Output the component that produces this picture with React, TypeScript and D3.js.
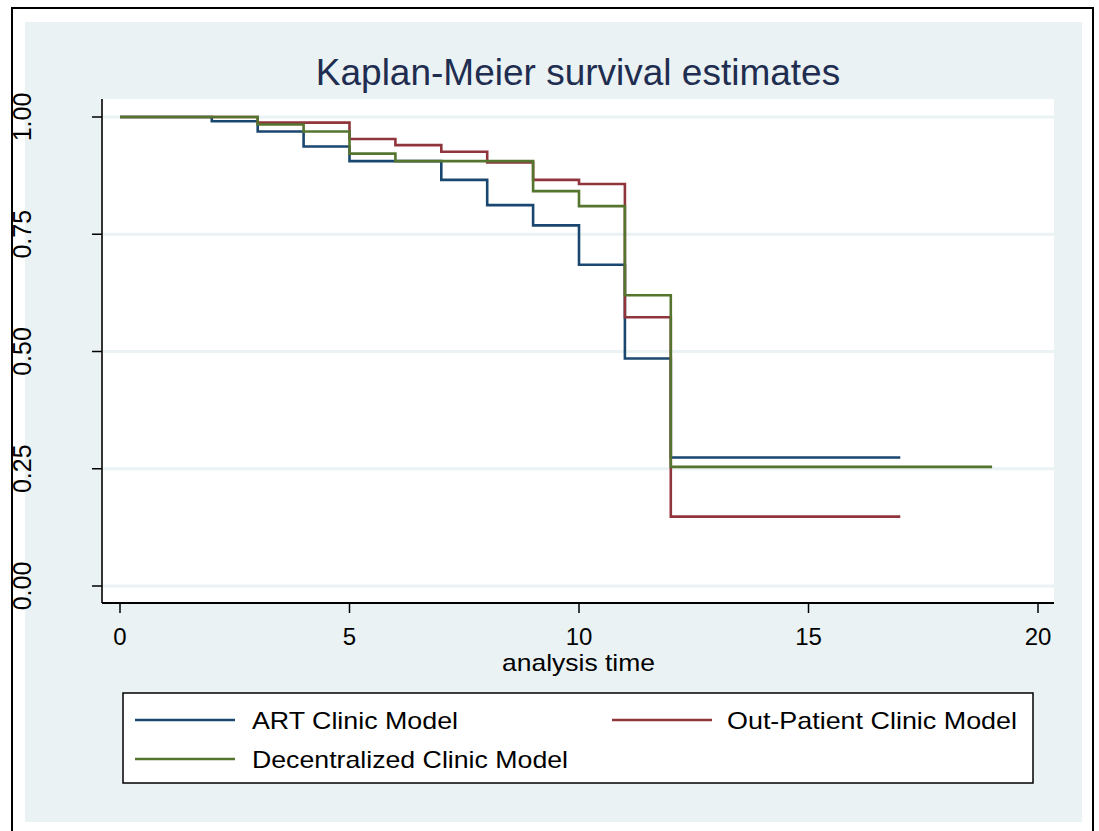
import React from "react";
import * as d3 from "d3";

const seriesNames = ["ART Clinic Model", "Out-Patient Clinic Model", "Decentralized Clinic Model"];
const seriesColors = ["#1a476f", "#90353b", "#55752f"];

const artTimes = [0, 2, 3, 4, 5, 7, 8, 9, 10, 11, 12, 17];
const artSurv = [1, 0.991, 0.969, 0.937, 0.906, 0.866, 0.812, 0.769, 0.685, 0.485, 0.274, 0.274];

const opTimes = [0, 3, 5, 6, 7, 8, 9, 10, 11, 12, 17];
const opSurv = [1, 0.988, 0.953, 0.94, 0.926, 0.903, 0.866, 0.857, 0.573, 0.148, 0.148];

const decTimes = [0, 3, 4, 5, 6, 9, 10, 11, 12, 19];
const decSurv = [1, 0.984, 0.969, 0.922, 0.906, 0.842, 0.81, 0.62, 0.254, 0.254];

const xTicks = [0, 5, 10, 15, 20];
const yTicks = [0, 0.25, 0.5, 0.75, 1];

const W = 1099;
const H = 831;
const plot = { left: 102, right: 1054, top: 99, bottom: 603 };

export default function App() {
  const x = d3.scaleLinear().domain([0, 20]).range([120, 1038]);
  const y = d3.scaleLinear().domain([0, 1]).range([586, 117]);
  const line = d3
    .line<[number, number]>()
    .x((d) => x(d[0]))
    .y((d) => y(d[1]))
    .curve(d3.curveStepAfter);

  const series = [
    { t: artTimes, s: artSurv },
    { t: opTimes, s: opSurv },
    { t: decTimes, s: decSurv },
  ];

  const font = "'Liberation Sans', Arial, Helvetica, sans-serif";
  const bg = "#eaf2f3";

  const legendItems = [
    { i: 0, lx: 135, tx: 252, y: 720, w: 206 },
    { i: 1, lx: 612, tx: 727, y: 720, w: 290 },
    { i: 2, lx: 135, tx: 252, y: 759, w: 316 },
  ];

  return (
    <svg
      width={W}
      height={H}
      style={{ position: "absolute", left: 0, top: 0, background: "#fff" }}
      fontFamily={font}
    >
      <rect x={0} y={0} width={W} height={H} fill="#ffffff" />
      <rect x={12} y={8} width={1081} height={840} fill="#ffffff" stroke="#000" strokeWidth={2} />
      <rect x={25} y={22} width={1057} height={800} fill={bg} />
      <text x={578} y={85} textAnchor="middle" fontSize={37} fill="#1f2d50">
        Kaplan-Meier survival estimates
      </text>
      <rect
        x={plot.left}
        y={plot.top}
        width={plot.right - plot.left}
        height={plot.bottom - plot.top}
        fill="#ffffff"
      />
      {yTicks.map((v) => (
        <line key={"g" + v} x1={plot.left} x2={plot.right} y1={y(v)} y2={y(v)} stroke={bg} strokeWidth={3} />
      ))}
      {series.map((sr, i) => (
        <path
          key={"s" + i}
          d={line(sr.t.map((t, k) => [t, sr.s[k]] as [number, number])) || ""}
          fill="none"
          stroke={seriesColors[i]}
          strokeWidth={2.6}
        />
      ))}
      <line x1={plot.left} x2={plot.left} y1={plot.top} y2={plot.bottom} stroke="#333" strokeWidth={2} />
      <line x1={plot.left} x2={plot.right} y1={plot.bottom} y2={plot.bottom} stroke="#000" strokeWidth={2} />
      {yTicks.map((v) => (
        <g key={"yt" + v}>
          <line x1={92} x2={plot.left} y1={y(v)} y2={y(v)} stroke="#000" strokeWidth={1.5} />
          <text
            transform={`translate(31,${y(v)}) rotate(-90)`}
            textAnchor="middle"
            fontSize={25}
            fill="#000"
          >
            {d3.format(".2f")(v)}
          </text>
        </g>
      ))}
      {xTicks.map((v) => (
        <g key={"xt" + v}>
          <line x1={x(v)} x2={x(v)} y1={plot.bottom} y2={613} stroke="#000" strokeWidth={1.5} />
          <text x={x(v)} y={645} textAnchor="middle" fontSize={24} fill="#000">
            {v}
          </text>
        </g>
      ))}
      <text
        x={502}
        y={671}
        fontSize={24}
        fill="#000"
        textLength={153}
        lengthAdjust="spacingAndGlyphs"
      >
        analysis time
      </text>
      <rect x={123} y={693} width={910} height={90} fill="#ffffff" stroke="#000" strokeWidth={1.5} />
      {legendItems.map((it) => (
        <g key={"l" + it.i}>
          <line x1={it.lx} x2={it.lx + 100} y1={it.y} y2={it.y} stroke={seriesColors[it.i]} strokeWidth={2.6} />
          <text
            x={it.tx}
            y={it.y + 9}
            fontSize={24}
            fill="#000"
            textLength={it.w}
            lengthAdjust="spacingAndGlyphs"
          >
            {seriesNames[it.i]}
          </text>
        </g>
      ))}
    </svg>
  );
}
